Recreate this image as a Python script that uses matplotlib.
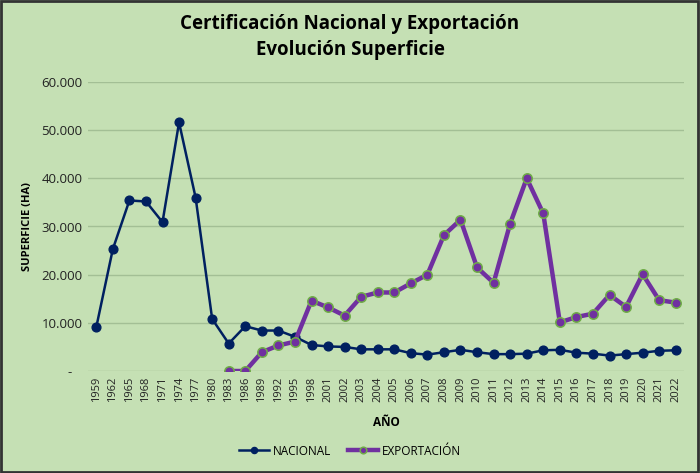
import numpy as np
import matplotlib
matplotlib.use("Agg")
import matplotlib.pyplot as plt
from matplotlib.ticker import FuncFormatter

# data
years = ["1959", "1962", "1965", "1968", "1971", "1974", "1977", "1980", "1983",
         "1986", "1989", "1992", "1995", "1998", "2001", "2002", "2003", "2004",
         "2005", "2006", "2007", "2008", "2009", "2010", "2011", "2012", "2013",
         "2014", "2015", "2016", "2017", "2018", "2019", "2020", "2021", "2022"]

nacional = [9100, 25300, 35400, 35200, 30900, 51600, 36000, 10800, 5700,
            9300, 8400, 8400, 7100, 5400, 5100, 5000, 4500, 4500,
            4500, 3700, 3400, 3900, 4400, 3900, 3500, 3500, 3600,
            4300, 4400, 3800, 3600, 3200, 3500, 3800, 4200, 4300]

exportacion = [np.nan, np.nan, np.nan, np.nan, np.nan, np.nan, np.nan, np.nan, 0,
               0, 3900, 5300, 6100, 14600, 13200, 11500, 15400, 16300,
               16300, 18200, 20000, 28200, 31400, 21500, 18300, 30600, 40000,
               32700, 10100, 11200, 11900, 15800, 13300, 20100, 14700, 14200]

BG = "#C5E0B4"
FONT = ["Open Sans", "DejaVu Sans"]
plt.rcParams["font.family"] = FONT

fig = plt.figure(figsize=(7.0, 4.73), dpi=100, facecolor=BG)
ax = fig.add_axes([88 / 700, 1 - 371 / 473, 596 / 700, 289 / 473])
ax.set_facecolor(BG)

x = np.arange(len(years))
ax.plot(x, nacional, color="#002060", lw=1.8, marker="o", ms=6.3,
        mfc="#002060", mec="#002060", label="NACIONAL", zorder=3)
ax.plot(x, exportacion, color="#7030A0", lw=3.2, marker="o", ms=6.8,
        mfc="#7030A0", mec="#70AD47", mew=1.1, label="EXPORTACIÓN", zorder=4)

ax.set_xlim(-0.5, len(years) - 0.5)
ax.set_ylim(0, 60000)
ax.set_yticks(np.arange(0, 60001, 10000))
ax.yaxis.set_major_formatter(FuncFormatter(
    lambda v, p: "-   " if v == 0 else f"{int(v):,}".replace(",", ".")))
ax.set_xticks(x)
ax.set_xticklabels(years, rotation=90, fontsize=8, color="#222222")
ax.tick_params(axis="y", labelsize=9.5, colors="#222222", length=0, pad=4)
ax.tick_params(axis="x", length=0, pad=4)
ax.grid(axis="y", color="#A3BF95", lw=1)
ax.set_axisbelow(True)
for s in ax.spines.values():
    s.set_visible(False)

ax.set_ylabel("SUPERFICIE (HA)", fontsize=8, fontweight="bold", labelpad=6)
ax.set_xlabel("AÑO", fontsize=8.5, fontweight="bold", labelpad=10)

fig.text(0.5, 1 - 24 / 473, "Certificación Nacional y Exportación", ha="center",
         va="center", fontsize=13.5, fontweight="bold")
fig.text(0.5, 1 - 50 / 473, "Evolución Superficie", ha="center",
         va="center", fontsize=13.5, fontweight="bold")

fig.legend(loc="center", bbox_to_anchor=(0.5, 1 - 451 / 473), ncol=2,
           frameon=False, fontsize=8.5, handlelength=2.5, columnspacing=1.5,
           handletextpad=0.3, markerscale=0.7)

fig.add_artist(plt.Rectangle((0.002, 0.003), 0.995, 0.994, transform=fig.transFigure,
                             fill=False, ec="#333333", lw=2))

fig.savefig("out.png", dpi=100, facecolor=BG)
